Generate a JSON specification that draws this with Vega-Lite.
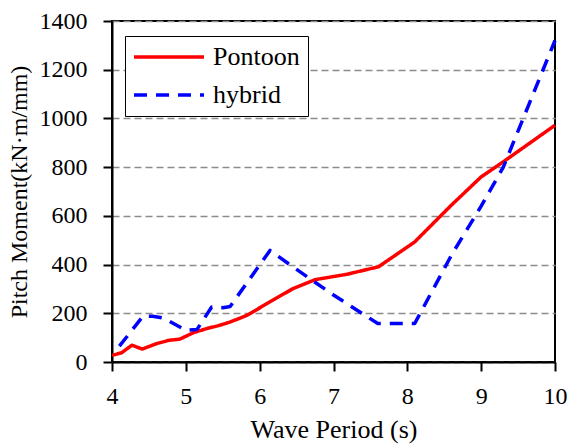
{
  "$schema": "https://vega.github.io/schema/vega-lite/v6.json",
  "autosize": "none",
  "width": 443,
  "height": 341,
  "padding": {"left": 112, "top": 21, "right": 13, "bottom": 86},
  "background": "white",
  "config": {
    "view": {"stroke": "black", "strokeWidth": 2},
    "font": "Liberation Serif"
  },
  "data": {
    "values": [
      {"period": 4.0, "moment": 27, "series": "Pontoon"},
      {"period": 4.13, "moment": 38, "series": "Pontoon"},
      {"period": 4.27, "moment": 69, "series": "Pontoon"},
      {"period": 4.41, "moment": 53, "series": "Pontoon"},
      {"period": 4.6, "moment": 75, "series": "Pontoon"},
      {"period": 4.77, "moment": 89, "series": "Pontoon"},
      {"period": 4.92, "moment": 94, "series": "Pontoon"},
      {"period": 5.1, "moment": 120, "series": "Pontoon"},
      {"period": 5.28, "moment": 137, "series": "Pontoon"},
      {"period": 5.45, "moment": 150, "series": "Pontoon"},
      {"period": 5.6, "moment": 164, "series": "Pontoon"},
      {"period": 5.83, "moment": 192, "series": "Pontoon"},
      {"period": 6.1, "moment": 240, "series": "Pontoon"},
      {"period": 6.45, "moment": 301, "series": "Pontoon"},
      {"period": 6.75, "moment": 338, "series": "Pontoon"},
      {"period": 7.18, "moment": 360, "series": "Pontoon"},
      {"period": 7.61, "moment": 391, "series": "Pontoon"},
      {"period": 8.1, "moment": 493, "series": "Pontoon"},
      {"period": 8.6, "moment": 645, "series": "Pontoon"},
      {"period": 9.0, "moment": 760, "series": "Pontoon"},
      {"period": 9.3, "moment": 822, "series": "Pontoon"},
      {"period": 10.0, "moment": 972, "series": "Pontoon"},
      {"period": 4.1, "moment": 65, "series": "hybrid"},
      {"period": 4.42, "moment": 188, "series": "hybrid"},
      {"period": 4.55, "moment": 188, "series": "hybrid"},
      {"period": 4.7, "moment": 180, "series": "hybrid"},
      {"period": 5.0, "moment": 130, "series": "hybrid"},
      {"period": 5.15, "moment": 133, "series": "hybrid"},
      {"period": 5.35, "moment": 226, "series": "hybrid"},
      {"period": 5.5, "moment": 223, "series": "hybrid"},
      {"period": 5.6, "moment": 228, "series": "hybrid"},
      {"period": 6.14, "moment": 458, "series": "hybrid"},
      {"period": 6.5, "moment": 380, "series": "hybrid"},
      {"period": 7.0, "moment": 275, "series": "hybrid"},
      {"period": 7.6, "moment": 158, "series": "hybrid"},
      {"period": 8.1, "moment": 158, "series": "hybrid"},
      {"period": 8.6, "moment": 440, "series": "hybrid"},
      {"period": 9.0, "moment": 640, "series": "hybrid"},
      {"period": 9.3, "moment": 800, "series": "hybrid"},
      {"period": 9.65, "moment": 1060, "series": "hybrid"},
      {"period": 10.0, "moment": 1320, "series": "hybrid"}
    ]
  },
  "mark": {"type": "line", "strokeWidth": 3.5, "strokeCap": "butt", "strokeJoin": "round"},
  "encoding": {
    "x": {
      "field": "period", "type": "quantitative",
      "scale": {"domain": [4, 10], "nice": false, "zero": false},
      "axis": {
        "title": "Wave Period (s)",
        "values": [4, 5, 6, 7, 8, 9, 10],
        "format": "d",
        "grid": false,
        "domainColor": "black", "domainWidth": 2,
        "tickColor": "black", "tickWidth": 2, "tickSize": 9,
        "labelFontSize": 24, "labelColor": "black", "labelPadding": 13,
        "labelFont": "Liberation Serif", "labelFlush": false,
        "titleFont": "Liberation Serif", "titleFontSize": 26, "titleFontWeight": "normal",
        "titleColor": "black", "titlePadding": 8
      }
    },
    "y": {
      "field": "moment", "type": "quantitative",
      "scale": {"domain": [0, 1400], "nice": false},
      "axis": {
        "title": "Pitch Moment(kN·m/mm)",
        "values": [0, 200, 400, 600, 800, 1000, 1200, 1400],
        "format": "d",
        "grid": true, "gridColor": "#8c8c8c", "gridWidth": 1.5, "gridDash": [7, 4], "gridOpacity": 1,
        "domainColor": "black", "domainWidth": 2,
        "tickColor": "black", "tickWidth": 2, "tickSize": 9,
        "labelFontSize": 24, "labelColor": "black", "labelPadding": 16,
        "labelFont": "Liberation Serif", "labelFlush": false,
        "titleFont": "Liberation Serif", "titleFontSize": 24, "titleFontWeight": "normal",
        "titleColor": "black", "titlePadding": 8
      }
    },
    "color": {
      "field": "series", "type": "nominal",
      "scale": {"domain": ["Pontoon", "hybrid"], "range": ["#ff0000", "#0000ff"]},
      "legend": {
        "title": null,
        "orient": "none", "legendX": 13, "legendY": 15,
        "symbolType": "M-3.5,0H3.5", "symbolSize": 400, "symbolStrokeWidth": 3.5,
        "symbolOffset": 23,
        "labelFontSize": 26, "labelFont": "Liberation Serif", "labelColor": "black",
        "labelOffset": 31, "rowPadding": 12, "padding": 8,
        "strokeColor": "black", "fillColor": "white"
      }
    },
    "strokeDash": {
      "field": "series", "type": "nominal",
      "scale": {"domain": ["Pontoon", "hybrid"], "range": [[1, 0], [13, 9]]},
      "legend": {
        "title": null,
        "orient": "none", "legendX": 13, "legendY": 15,
        "symbolType": "M-3.5,0H3.5", "symbolSize": 400, "symbolStrokeWidth": 3.5,
        "symbolOffset": 23,
        "labelFontSize": 26, "labelFont": "Liberation Serif", "labelColor": "black",
        "labelOffset": 31, "rowPadding": 12, "padding": 8,
        "strokeColor": "black", "fillColor": "white"
      }
    }
  }
}
